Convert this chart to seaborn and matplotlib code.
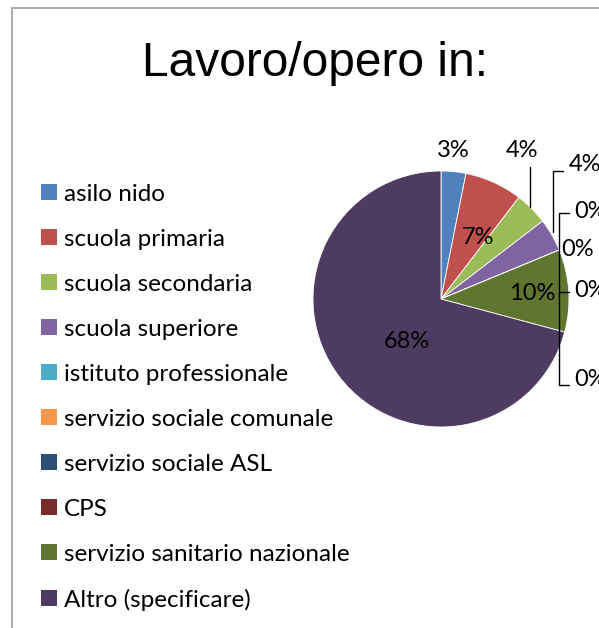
import numpy as np
import matplotlib
matplotlib.use("Agg")
import matplotlib.pyplot as plt
from matplotlib.patches import Patch
from matplotlib.lines import Line2D
import seaborn as sns

# data
categories = ['asilo nido', 'scuola primaria', 'scuola secondaria', 'scuola superiore',
              'istituto professionale', 'servizio sociale comunale', 'servizio sociale ASL',
              'CPS', 'servizio sanitario nazionale', 'Altro (specificare)']
shares = [3, 7, 4, 4, 0, 0, 0, 0, 10, 68]
colors = ['#4F81BD', '#C0504D', '#9BBB59', '#8064A2', '#4BACC6',
          '#F79646', '#2C4D75', '#772C2A', '#5F7530', '#4D3B62']
title = 'Lavoro/opero in:'

# label placement (pie radius units), mimics the Excel layout
label_pos = [(0.094, 1.164), (0.289, 0.484), (0.633, 1.164), (1.125, 1.047),
             (1.17, 0.68), (1.07, 0.39), (1.17, 0.07), (1.17, -0.63),
             (0.71, 0.04), (-0.27, -0.33)]
leaders = [[(0.695, 0.719), (0.695, 1.031)],
           [(0.875, 0.52), (0.875, 1.0), (0.953, 1.0)],
           [(1.0, 0.672), (0.922, 0.672), (0.922, -0.672), (1.0, -0.672)],
           [(0.922, 0.055), (1.0, 0.055)]]

sns.set_style('white')
plt.rcParams['font.family'] = ['Lato', 'DejaVu Sans']
plt.rcParams['text.color'] = 'black'

W, H = 599, 628
fig = plt.figure(figsize=(W / 100, H / 100), dpi=100)

# chart frame (cropped on the right and bottom)
fig.add_artist(Line2D([12 / W, 12 / W], [0, 1 - 8 / H], color='#9c9c9c', lw=1.2))
fig.add_artist(Line2D([12 / W, 1], [1 - 8 / H, 1 - 8 / H], color='#9c9c9c', lw=1.2))

fig.text(315 / W, 1 - 63 / H, title, ha='center', va='center', fontsize=34.5,
         family=['Liberation Sans', 'DejaVu Sans'])

cx, cy, r = 441, 299, 128
ax = fig.add_axes([(cx - r) / W, 1 - (cy + r) / H, 2 * r / W, 2 * r / H])
wedges, _ = ax.pie(shares, colors=colors, startangle=90, counterclock=False,
                   wedgeprops=dict(edgecolor='white', linewidth=0.6))
ax.set_xlim(-1, 1)
ax.set_ylim(-1, 1)
ax.axis('off')

for val, (x, y) in zip(shares, label_pos):
    ax.text(x, y, f'{val}%', ha='center', va='center', fontsize=17, color='black',
            clip_on=False)

for pts in leaders:
    xs, ys = zip(*pts)
    ax.plot(xs, ys, color='black', lw=1, clip_on=False)

handles = [Patch(facecolor=c, edgecolor='none') for c in colors]
fig.legend(handles, categories, loc='upper left', bbox_to_anchor=(41 / W, 1 - 184 / H),
           frameon=False, fontsize=17.5, handlelength=0.64, handleheight=0.64,
           handletextpad=0.3, labelspacing=0.985, borderpad=0, borderaxespad=0)

fig.savefig('out.png', dpi=100)
